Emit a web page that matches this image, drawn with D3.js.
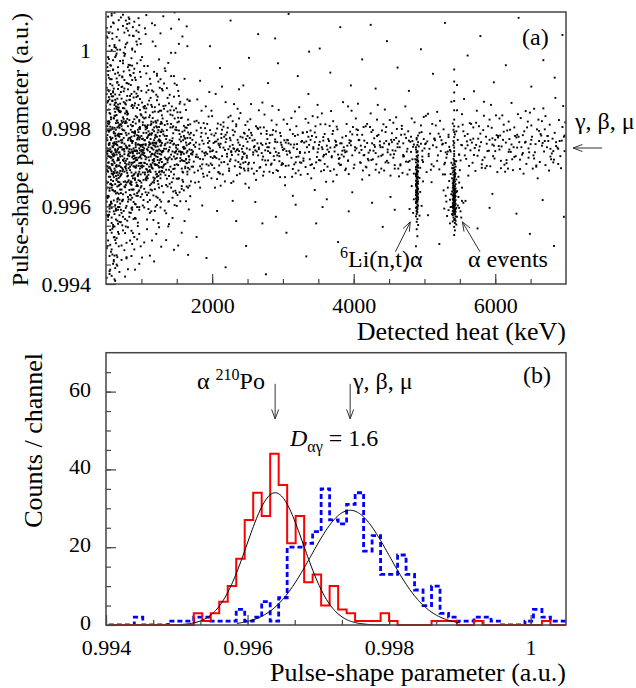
<!DOCTYPE html>
<html>
<head>
<meta charset="utf-8">
<script src="https://cdn.jsdelivr.net/npm/d3@7"></script>
<style>
body { margin: 0; background: #fff; }
svg { display: block; }
text { font-family: "Liberation Serif", "Times New Roman", serif; fill: #000; }
</style>
</head>
<body>
<svg id="chart" width="636" height="688"></svg>
<script>
// ---- panel (a) ----
var heatTicks = [2000, 4000, 6000];
var psdTicks = [0.994, 0.996, 0.998, 1.0];

// scatter events: pairs of (heat in units of 10 keV, pulse-shape in units of 1e-5 above 0.99)
var lowHeatEvents = [
51,612,63,874,55,433,68,721,52,958,60,547,66,803,57,1062,53,689,64,505,
59,776,50,842,67,598,54,931,61,462,69,685,56,747,62,1015,58,571,65,820,
52,703,60,893,68,529,55,640,63,984,51,416,66,757,57,611,64,867,53,1088,
61,736,58,489,69,802,50,665,67,944,54,578,62,711,56,838,65,450,59,1031,
53,627,66,782,60,552,51,905,68,673,57,739,63,441,55,816,64,590,52,968,
67,724,58,655,50,793,62,521,69,887,56,698,61,615,54,1046,65,759,59,476,
51,848,64,633,57,771,53,565,66,920,60,684,68,497,55,742,62,861,58,1002,
63,603,50,718,67,785,56,539,59,911,65,667,52,806,61,458,69,752,54,979,
60,641,57,824,64,703,51,587,68,854,55,426,62,765,66,612,53,938,58,690,
65,733,52,648,59,872,67,555,50,1019,63,781,56,501,61,826,54,676,69,937,
58,596,64,857,51,740,66,469,55,795,60,1073,53,626,68,704,62,548,57,889,
69,662,54,812,61,729,50,579,65,993,59,707,56,437,63,843,52,770,67,621,
55,875,62,697,58,532,68,806,53,744,66,651,51,1037,64,589,60,762,57,483,
50,926,61,675,67,748,56,604,63,888,59,542,54,713,65,835,52,497,69,779,
57,668,53,813,64,566,60,951,51,694,68,632,55,759,62,412,66,877,58,726,
63,513,59,799,50,683,67,1055,54,760,61,587,56,915,65,702,52,623,69,846,
58,741,66,563,53,899,60,720,55,646,64,1008,51,531,68,787,57,658,62,833,
54,578,61,792,67,680,50,857,65,474,59,718,56,963,63,657,52,735,69,560,
60,883,57,609,64,774,51,492,68,912,55,701,62,638,66,821,53,573,58,1096,
65,686,52,783,59,654,67,862,56,727,61,520,54,849,63,744,50,612,69,705,
71,752,84,629,93,881,77,567,89,943,73,698,98,804,80,1021,86,712,75,588,
92,763,79,846,70,607,87,925,95,678,74,1064,82,735,97,591,78,819,90,702,
83,874,72,643,96,759,88,531,76,987,91,724,81,612,99,837,85,769,73,908,
94,655,79,783,87,597,70,842,97,711,83,1040,75,663,90,895,78,548,86,746,
71,811,93,627,82,964,95,776,76,689,88,853,74,573,99,731,80,917,91,606,
85,738,72,877,98,665,79,601,89,790,77,1009,94,742,84,512,70,728,92,832,
81,679,96,861,75,747,87,622,73,932,90,781,83,584,78,703,97,1031,86,655,
74,796,91,570,80,722,95,906,71,634,88,768,99,624,76,852,84,693,93,1052,
79,752,86,889,72,583,97,749,82,667,90,954,77,711,94,598,70,974,87,726,
92,687,75,825,89,643,81,770,98,876,73,551,85,797,96,704,78,1078,83,642,
71,894,88,712,94,829,80,563,76,761,91,668,84,938,99,757,87,591,73,815,
96,638,82,787,70,677,93,744,78,862,86,537,75,995,90,730,97,689,81,901,
85,617,72,764,89,880,77,649,94,1016,79,708,91,791,83,573,98,848,74,719,
87,962,95,652,80,836,73,746,92,605,76,903,84,776,99,682,71,559,88,817,
78,697,90,744,82,1086,96,791,74,631,86,858,93,719,79,917,70,786,85,664,
97,598,75,776,88,643,81,958,94,736,72,820,89,703,77,531,91,865,83,756,
98,727,80,677,87,806,73,613,95,884,84,702,76,1047,92,758,71,680,86,595,
79,843,93,661,82,741,99,933,75,716,89,567,77,814,96,684,84,874,70,643,
91,793,74,968,86,707,97,818,81,624,88,740,72,499,94,772,78,655,85,912,
90,631,76,734,83,822,95,558,73,771,87,1003,80,751,98,799,79,469,92,701,
101,734,114,812,123,665,107,893,119,588,128,757,104,961,111,702,126,846,117,628,
109,779,122,941,103,616,115,735,129,689,106,842,120,1012,112,654,125,772,100,897,
118,716,127,597,105,808,113,879,121,743,108,566,124,921,102,687,116,764,129,834,
110,635,123,790,106,1043,119,708,114,861,101,773,127,682,108,910,122,603,116,827,
104,749,112,583,125,804,118,946,100,661,121,728,109,862,128,612,115,699,103,789,
126,735,107,674,117,895,111,758,124,557,102,816,120,781,113,643,129,902,105,711,
119,844,110,726,123,622,101,984,116,697,127,768,108,801,114,587,122,873,104,645,
112,928,125,712,106,757,118,661,100,834,121,625,128,846,103,732,115,1071,109,688,
124,769,117,816,102,602,111,872,126,690,107,942,120,738,113,773,129,652,105,858,
116,719,122,803,110,593,127,927,101,705,119,672,114,784,106,828,123,743,108,629,
121,887,104,770,118,734,112,693,125,978,100,741,109,611,128,791,115,856,103,668,
126,617,111,829,120,706,107,789,124,843,117,565,102,752,113,915,129,739,119,756,
105,682,116,1024,122,676,108,747,127,812,114,706,101,631,121,764,110,899,125,648,
118,793,103,856,128,722,112,762,106,670,123,882,115,641,120,819,100,712,117,746,
109,961,126,781,113,708,104,597,119,855,111,784,124,704,107,726,122,936,116,662,
129,797,102,809,114,751,120,599,108,677,125,862,118,722,105,1058,127,743,110,783,
121,682,115,898,101,757,112,616,123,727,106,804,119,763,113,688,126,905,104,737,
131,742,145,806,158,668,137,879,163,721,149,634,134,948,168,785,141,702,155,842,
160,753,138,612,152,897,166,699,143,768,130,826,157,739,147,916,164,651,135,773,
150,708,161,862,139,745,169,626,144,834,132,687,156,779,148,995,165,742,142,648,
136,819,159,717,146,761,133,589,162,803,153,672,140,887,167,760,151,734,144,622,
158,792,131,703,149,852,164,711,137,764,155,613,142,935,168,695,133,809,146,728,
161,776,139,678,153,741,130,898,157,652,145,788,166,823,135,722,150,601,163,764,
141,847,159,687,147,739,134,761,169,811,152,706,138,969,156,738,143,662,165,875,
132,748,148,797,160,641,137,713,154,864,167,729,144,775,131,636,162,698,150,912,
140,726,157,828,135,582,164,757,146,682,153,795,130,741,168,653,142,812,158,1037,
149,757,136,904,161,716,145,638,133,781,155,869,166,790,139,694,151,747,163,613,
144,741,157,697,131,858,148,722,168,746,137,651,152,828,134,709,160,781,142,995,
155,724,165,689,140,770,147,603,132,916,159,752,150,671,143,857,167,713,136,796,
162,774,138,741,154,636,146,882,130,699,164,738,149,803,135,655,158,689,141,763,
169,776,151,842,133,726,145,759,161,928,139,613,156,767,147,706,166,648,153,1018,
134,680,160,807,142,733,168,871,148,640,137,844,152,758,131,793,163,721,144,570,
157,645,146,935,165,776,140,658,150,796,135,748,167,592,155,716,132,851,159,770,
143,721,162,749,136,671,153,818,149,742,138,548,164,802,145,696,130,742,170,664,
156,733,141,803,168,720,133,955,151,629,160,735,147,826,137,719,165,1012,154,772,
58,421,66,447,72,462,81,438,90,489,97,452,104,507,112,473,121,529,128,496,
135,513,146,488,157,532,166,475,63,408,77,419,86,472,94,515,108,541,118,458,
139,554,152,499,161,562,55,472,69,431,79,506,91,437,101,468,115,512,125,546,
62,1098,74,1093,83,1071,96,1084,107,1092,119,1066,131,1089,142,1057,153,1081,164,1063,
147,1099,127,1045,88,1039,99,1018
];

// the densest part of the low-heat cloud
var lowHeatCore = [
52,742,61,688,67,815,55,603,64,761,58,927,50,704,69,655,56,862,62,580,
53,795,66,718,59,642,51,889,68,767,57,694,63,833,54,625,65,740,60,976,
50,771,67,663,55,728,62,851,58,709,64,594,52,818,69,739,56,676,61,903,
59,754,53,871,66,635,51,723,63,787,57,612,68,846,54,758,60,681,65,929,
62,732,50,806,56,749,67,591,58,883,53,662,64,797,61,715,55,840,69,617,
57,773,63,692,51,659,66,855,59,734,52,621,68,781,60,896,54,699,65,766,
58,648,61,827,50,735,64,678,56,805,67,722,53,948,62,761,55,586,69,810,
59,706,66,744,52,867,63,639,57,797,60,752,51,626,68,719,54,881,65,671,
61,788,53,712,67,849,56,657,64,739,50,915,58,684,62,802,55,763,69,598,
57,829,63,747,52,691,66,618,59,871,51,776,68,653,60,731,54,819,65,706,
62,685,56,778,50,643,67,902,53,729,64,814,58,607,61,757,55,698,69,843,
57,725,63,866,51,750,66,688,59,803,52,577,68,738,60,665,54,792,65,851,
71,701,84,776,93,652,77,839,89,722,73,615,98,758,80,884,86,687,75,746,
92,813,79,661,70,733,87,791,95,627,74,853,82,708,97,772,78,596,90,824,
83,747,72,683,96,906,88,729,76,651,91,787,81,838,99,703,85,628,73,764,
94,719,79,872,87,678,70,810,97,641,83,756,75,896,90,714,78,789,86,662,
71,844,93,725,82,618,95,797,76,741,88,672,74,829,99,754,80,686,91,931,
85,771,72,806,98,697,79,749,89,611,77,865,94,783,84,659,70,712,92,752,
81,731,96,667,75,818,87,741,73,690,90,859,83,713,78,636,97,802,86,779,
74,694,91,742,80,825,95,681,71,770,88,807,99,648,76,723,84,884,93,705,
79,815,86,643,72,752,97,737,82,698,90,790,77,664,94,853,70,691,87,763,
92,718,75,868,89,680,81,806,98,744,73,729,85,657,96,781,78,717,83,950,
91,672,76,795,88,736,74,617,95,759,80,842,99,711,86,768,71,657,93,890,
84,738,79,692,97,822,72,786,89,749,77,701,94,634,82,775,90,683,75,747,
87,861,73,798,96,725,81,663,85,810,78,756,92,699,70,864,98,777,83,729,
101,758,114,702,123,821,107,667,119,776,128,733,104,852,111,691,126,765,117,718,
109,809,122,683,103,744,115,788,129,714,106,636,120,753,112,834,125,700,100,781,
118,667,127,792,105,729,113,761,121,815,108,708,124,657,102,774,116,842,129,691,
110,752,123,719,106,798,119,644,114,733,101,867,127,756,108,694,122,779,116,712,
104,826,112,740,125,688,118,803,100,723,121,761,109,672,128,817,115,749,103,703,
126,770,107,852,117,674,111,718,124,796,102,739,120,689,113,809,129,763,105,770,
119,731,110,681,123,754,101,700,116,797,127,722,108,776,114,658,122,743,104,712,
112,787,125,746,106,721,118,770,100,652,121,806,128,701,103,759,115,735,109,744,
124,678,117,757,102,829,111,765,126,718,107,696,120,784,113,728,129,813,105,687,
116,762,122,707,110,793,127,672,101,745,119,708,114,818,106,760,123,736,108,805
];

// upper, lower and right fringes of the low-heat cloud
var lowHeatFringe = [
52,1034,57,962,61,1071,66,918,70,1003,75,947,81,1052,86,981,92,925,97,1066,
54,896,59,1045,64,988,68,1079,73,934,78,1017,84,963,89,1038,95,901,99,976,
51,1059,56,927,62,1010,67,958,71,1086,77,992,82,915,88,1061,93,1024,98,946,
53,984,58,1091,63,941,69,1027,74,975,80,1069,85,936,91,998,96,1048,55,1013,
60,952,65,1036,72,907,79,1058,87,1006,94,968,83,1082,76,925,90,1075,66,1003,
132,707,136,781,141,836,145,672,149,751,153,884,157,719,161,795,165,682,169,763,
134,859,138,723,143,768,147,697,151,816,155,741,159,663,163,848,167,728,131,785,
135,694,140,752,144,803,148,738,152,671,156,827,160,748,164,711,168,872,133,757,
137,812,142,689,146,847,150,724,154,786,158,739,162,702,166,809,139,865,170,735,
53,512,58,557,62,473,67,534,71,591,76,487,81,546,87,503,92,568,97,529,
55,594,60,452,65,518,69,577,74,538,79,466,85,583,90,521,95,549,99,497
];

var bandEvents = [
171,745,184,802,196,688,209,761,223,829,237,714,248,773,176,661,191,857,203,729,
215,682,229,796,242,748,174,783,187,721,199,846,212,653,226,770,239,701,250,818,
178,733,193,679,205,788,218,745,231,863,245,697,181,815,195,752,207,670,221,728,
234,806,247,658,173,702,186,769,200,832,213,713,227,742,240,779,183,648,197,796,
210,757,224,691,236,851,249,725,175,818,189,737,202,763,216,805,230,664,243,740,
180,692,194,776,206,724,219,868,233,718,246,787,172,771,185,846,198,710,211,684,
225,754,238,826,251,692,177,727,190,801,204,648,217,779,228,732,241,699,182,759,
192,708,208,813,220,773,235,680,244,755,179,875,188,676,201,744,214,729,232,792,
247,809,174,715,195,831,206,767,222,708,237,764,170,789,186,741,199,672,212,810,
227,660,243,727,250,766,183,703,197,741,209,687,219,784,231,748,240,840,176,753,
191,787,204,727,216,751,229,819,245,735,181,663,193,735,207,800,225,716,236,747,
172,738,188,814,200,706,213,776,226,833,239,684,249,749,178,820,194,763,210,721,
221,790,233,741,244,712,185,697,203,782,218,664,230,783,246,736,196,894,214,908,
253,746,268,803,281,689,297,764,312,827,326,712,339,771,354,690,368,845,383,733,
396,768,259,712,274,836,288,749,303,675,317,781,331,738,346,806,361,663,375,757,
390,812,256,783,271,720,285,858,300,745,314,696,328,790,343,752,357,728,372,695,
387,744,262,668,277,794,292,731,306,812,320,760,335,683,349,829,364,773,379,710,
393,683,254,824,266,751,283,707,296,789,309,742,323,855,338,721,351,758,366,807,
381,762,398,731,258,739,272,679,289,766,301,823,316,708,330,764,344,698,359,786,
373,741,385,868,264,802,279,742,293,691,307,770,322,728,336,815,350,748,363,702,
377,798,392,717,251,708,269,762,284,821,299,711,311,759,325,681,341,781,355,839,
369,729,384,777,399,804,260,755,275,718,290,793,305,742,319,806,333,767,348,727,
362,756,376,681,391,756,255,863,270,737,286,686,302,770,315,751,329,717,345,790,
358,693,371,819,388,739,263,691,278,773,294,848,308,705,321,784,337,740,352,766,
367,751,380,724,395,792,257,769,273,803,287,729,304,764,318,685,332,825,347,713,
360,811,374,769,389,697,265,731,280,752,295,716,310,797,324,740,340,672,356,747,
370,786,386,752,252,797,267,699,282,783,298,758,313,676,327,768,342,832,357,769,
382,707,397,846,261,744,276,761,291,810,306,733,319,727,334,752,353,718,365,740,
378,733,394,763,259,684,282,737,300,709,317,844,339,795,358,732,371,664,389,781,
271,867,296,675,324,713,349,861,376,757,252,648,303,654,345,642,266,847,392,857,
402,752,417,806,431,694,446,768,460,829,474,715,489,776,503,688,518,843,532,734,
547,771,409,713,424,839,438,752,452,679,467,784,481,740,495,808,510,662,525,759,
540,813,405,784,420,722,434,861,448,746,463,697,477,793,492,754,506,729,521,695,
536,745,412,669,427,796,441,733,456,815,470,762,485,684,499,830,514,774,529,712,
543,686,403,826,416,753,432,708,445,791,459,743,473,857,487,721,501,760,516,808,
530,763,549,733,408,738,422,680,437,767,451,822,466,708,480,766,494,699,508,787,
523,742,538,869,414,804,428,743,443,692,457,771,471,729,486,816,500,749,513,703,
527,798,542,718,401,707,419,763,433,823,449,712,462,761,476,682,491,782,505,838,
519,731,534,778,548,805,410,756,425,719,440,795,455,744,468,807,483,768,497,728,
512,757,526,682,541,757,406,864,421,738,436,687,453,771,465,752,479,717,496,791,
509,694,522,820,537,741,413,692,429,775,444,849,458,706,472,785,490,741,504,767,
517,752,531,725,545,793,407,770,423,804,439,730,454,765,469,686,482,826,498,714,
511,812,524,770,539,698,415,732,430,753,447,717,461,799,475,741,493,673,507,748,
520,787,535,753,404,798,418,700,435,784,450,759,464,677,478,769,502,833,515,770,
528,708,546,847,411,745,426,762,442,811,457,734,470,728,484,753,497,719,533,741,
552,758,566,812,581,699,596,775,610,834,624,721,639,783,653,697,668,852,682,742,
697,779,559,722,574,846,588,761,603,688,617,795,631,751,646,818,660,672,675,768,
690,822,555,793,570,732,584,869,598,756,613,707,627,803,642,764,656,739,671,706,
686,755,562,679,577,806,591,743,606,826,620,773,635,696,649,841,664,786,679,721,
693,698,553,837,567,764,582,719,595,802,609,754,623,866,638,733,651,771,666,819,
681,774,698,742,558,749,572,691,587,779,601,834,616,719,630,777,644,709,659,798,
673,752,685,879,564,814,578,754,593,703,607,782,622,740,636,827,650,760,663,714,
677,810,692,729,551,718,569,774,584,833,599,723,611,771,625,693,641,793,655,851,
669,741,684,789,699,816,560,767,575,730,590,806,605,755,619,818,633,779,648,739,
662,768,676,692,691,768,556,876,571,750,586,698,602,783,615,764,629,729,645,803,
658,705,671,832,688,751,563,704,579,787,594,861,608,717,621,797,637,752,652,779,
667,763,680,736,695,804,557,781,573,815,589,742,604,777,618,697,632,837,647,725,
661,823,674,781,689,709,565,744,580,765,597,729,612,810,626,752,640,684,657,760,
670,798,686,765,554,810,568,712,583,796,600,771,614,689,628,781,643,845,665,782,
683,720,696,858,561,757,576,774,592,823,606,746,619,740,634,765,654,731,678,748
];

// the core of the gamma/beta/muon band
var bandCore = [
173,741,186,708,199,785,211,752,224,697,236,771,249,730,262,806,275,744,288,719,
177,764,190,731,203,698,216,816,229,758,242,722,255,789,268,701,281,763,294,737,
171,702,184,779,197,749,209,688,222,802,235,745,247,714,260,771,273,689,286,796,
299,752,180,726,193,812,206,740,219,765,232,703,245,789,258,733,271,758,284,710,
297,781,175,687,188,761,201,724,214,797,227,739,240,708,253,776,266,747,279,718,
292,765,182,748,195,705,208,772,221,735,234,811,246,692,259,752,272,728,285,784,
298,706,178,795,191,739,204,766,217,714,230,749,243,777,256,697,269,787,282,738,
295,729,174,758,187,684,200,742,213,786,226,721,239,758,252,712,265,799,278,752,
291,693,183,722,196,768,210,705,223,747,237,733,250,781,263,741,276,707,289,772,
172,733,185,789,198,727,212,761,225,776,238,742,251,697,264,762,277,786,290,740,
302,748,318,713,334,791,349,739,365,768,381,706,396,757,412,784,427,721,443,762,
458,697,474,776,489,739,306,771,322,692,337,758,353,811,369,726,384,743,400,698,
415,769,431,737,446,804,462,752,477,714,493,789,310,738,326,766,341,708,357,778,
373,752,388,693,404,749,419,812,435,728,450,761,466,705,481,779,497,743,314,786,
329,723,345,765,361,734,376,805,392,718,408,771,423,744,439,697,454,788,470,732,
485,759,304,704,320,747,336,779,351,719,367,691,383,762,398,785,414,731,429,758,
445,713,460,776,476,748,491,715,308,762,324,737,339,706,355,752,371,794,386,728,
402,744,417,702,433,781,448,739,464,767,479,694,495,761,312,725,328,789,343,748,
359,709,375,766,390,741,406,796,421,718,437,757,452,733,468,799,483,721,499,773,
316,759,332,701,347,778,363,746,379,722,394,770,410,712,425,791,441,752,456,725,
502,762,518,717,534,784,549,733,565,771,581,708,596,759,612,792,627,727,643,766,
658,702,674,781,689,748,506,735,522,779,538,712,553,757,569,803,585,726,600,742,
616,711,631,784,647,749,662,794,678,728,694,769,510,708,526,761,541,797,557,731,
573,758,588,704,604,781,620,746,635,720,651,808,666,756,682,713,698,782,514,774,
530,739,545,716,561,786,577,744,592,771,608,698,623,759,639,737,655,723,670,768
];

var liEvents = [
489,772,490,758,488,746,489,739,491,731,490,725,489,719,488,713,490,708,489,703,
491,699,488,695,490,691,489,688,489,684,490,681,488,678,491,675,489,672,490,669,
488,666,489,663,490,661,491,658,489,655,488,653,490,650,489,648,491,645,490,643,
488,641,489,638,490,636,489,634,491,632,488,629,490,627,489,625,490,622,488,620,
491,618,489,615,490,613,489,611,488,608,490,605,491,602,489,599,488,596,490,593,
489,589,490,585,489,580,488,574,490,567,489,560,491,765,488,752,490,741,489,729,
491,716,488,701,490,686,489,676,491,664,488,657,490,646,489,633,491,623,488,611,
490,598,489,587,491,690,488,683,490,674,489,659,490,639,489,617,490,703,489,694,
489,541,490,523,488,497,489,468,491,552,490,612,488,636,489,652,491,705,490,720,
482,652,485,618,494,637,496,601,479,593,498,664,484,583,493,576
];

var alphaEvents = [
542,729,541,722,543,716,542,711,540,706,544,702,541,698,543,694,542,690,540,687,
544,684,541,681,543,678,542,675,539,672,545,669,541,667,543,664,542,662,540,659,
544,657,541,655,543,652,542,650,540,648,544,646,541,644,543,642,542,640,539,638,
545,636,541,634,543,632,542,630,540,628,544,626,541,624,543,622,542,620,540,618,
544,616,541,614,543,612,542,610,540,608,544,606,541,604,543,602,542,600,539,598,
545,596,541,594,543,592,542,590,540,588,544,586,541,584,543,582,542,580,540,577,
544,574,541,571,543,568,542,565,540,561,543,557,541,653,542,645,543,637,541,629,
542,621,543,613,541,605,542,597,543,589,541,641,542,633,543,625,541,617,542,609,
540,601,544,593,541,660,542,668,543,676,541,692,542,700,543,708,541,651,542,643,
543,627,541,619,542,611,543,603,541,595,542,587,543,579,541,663,542,671,543,683,
542,547,543,538,542,526,542,735,542,742,542,751,542,763,542,778,542,791,542,806,
542,823,542,847,542,871,542,893,542,921,542,952,541,768,543,785,
527,641,531,612,535,665,537,598,548,624,551,587,553,648,546,573,529,682,534,590,
549,661,555,609,538,631,547,602,532,575,550,693,536,556,552,571,545,553,530,627,
533,648,546,639,548,676,536,617,539,580,553,614,528,594,544,563,537,683,549,596
];

var outlierEvents = [
183,923,197,1012,211,956,226,1078,238,901,252,982,265,1043,279,917,293,968,308,1095,
321,935,336,889,352,1006,367,944,381,1061,396,911,412,978,431,903,447,1025,462,957,
478,897,495,1004,512,941,529,1072,546,912,561,988,579,1038,598,919,615,963,633,1085,
651,908,668,976,684,931,695,1041,205,889,244,911,289,1032,337,998,424,1067,570,896,
178,521,192,467,207,588,219,443,234,562,248,498,261,611,276,425,290,573,305,532,
318,604,333,471,347,556,362,618,378,508,393,587,409,462,426,609,441,547,458,591,
473,434,505,577,521,503,558,614,575,543,592,596,613,468,630,581,649,529,667,616,
683,498,697,573,186,602,229,614,271,556,314,627,356,598,398,636,452,624,596,632
];

// ---- panel (b) ----
var countTicks = [0, 20, 40, 60];
var binStart = 0.99404, binWidth = 0.00012;
var alphaCounts = [0,0,0,0,0,0,0,0,0,0, 3,1,3,6,10,17,27,34,28,44, 36,21,28,11,13,5,10,4,3,1,
                   1,1,3,1,0,0,0,0,1,1, 1,0,0,1,0,0,0,0,0,0, 0,1,0,0];
var gammaCounts = [0,0,0,2,0,0,0,1,1,1, 2,2,1,1,1,4,1,2,6,1, 7,20,20,21,24,35,27,26,31,34,
                   19,23,13,13,18,13,9,5,10,3, 2,1,1,2,2,1,0,0,0,1, 4,2,1,1];
// gaussian fits: [amplitude, mean, sigma] and fit range
var alphaFit = [34, 0.99639, 0.00040], alphaFitRange = [0.99505, 0.99800];
var gammaFit = [29.5, 0.99745, 0.00055], gammaFitRange = [0.99585, 0.99900];

var svg = d3.select("#chart");
var frameColor = "#444";

function pairs(arr) {
  var out = [];
  for (var i = 0; i < arr.length; i += 2) out.push([arr[i] * 10, 0.99 + arr[i + 1] * 1e-5]);
  return out;
}
function fmt(d) { return String(+d.toFixed(3)); }

function arrow(g, x1, y1, x2, y2) {
  var a = Math.atan2(y2 - y1, x2 - x1), L = 10, w = 0.36;
  g.append("line").attr("x1", x1).attr("y1", y1).attr("x2", x2).attr("y2", y2)
    .attr("stroke", "#333").attr("stroke-width", 1);
  g.append("path")
    .attr("d", "M" + (x2 - L * Math.cos(a - w)) + "," + (y2 - L * Math.sin(a - w)) +
      "L" + x2 + "," + y2 + "L" + (x2 - L * Math.cos(a + w)) + "," + (y2 - L * Math.sin(a + w)))
    .attr("fill", "none").attr("stroke", "#333").attr("stroke-width", 1);
}

function styleAxis(g) {
  g.select(".domain").remove();
  g.selectAll(".tick line").attr("stroke", frameColor).attr("stroke-width", 1.2);
  g.selectAll(".tick text").attr("font-size", 22).attr("fill", "#000");
}

// ================= panel (a) =================
var xa = d3.scaleLinear().domain([500, 7000]).range([106, 566]);
var ya = d3.scaleLinear().domain([0.994, 1.001]).range([284, 12]);

svg.append("clipPath").attr("id", "clipA").append("rect")
  .attr("x", 106).attr("y", 12).attr("width", 460).attr("height", 272);

var dots = [].concat(pairs(lowHeatEvents), pairs(lowHeatCore), pairs(lowHeatFringe),
  pairs(bandEvents), pairs(bandCore), pairs(liEvents), pairs(alphaEvents), pairs(outlierEvents));
svg.append("g").attr("clip-path", "url(#clipA)")
  .selectAll("rect").data(dots).enter().append("rect")
  .attr("x", function(d) { return xa(d[0]) - 0.95; })
  .attr("y", function(d) { return ya(d[1]) - 0.95; })
  .attr("width", 1.9).attr("height", 1.9)
  .attr("fill", "#000");

svg.append("g").attr("transform", "translate(0,284)")
  .call(d3.axisBottom(xa).tickValues(d3.range(1000, 7000, 500)).tickSize(-5).tickFormat(""))
  .call(styleAxis);
svg.append("g").attr("transform", "translate(0,284)")
  .call(d3.axisBottom(xa).tickValues(heatTicks).tickSize(-10).tickPadding(13).tickFormat(d3.format("d")))
  .call(styleAxis);
svg.append("g").attr("transform", "translate(106,0)")
  .call(d3.axisLeft(ya).tickValues(d3.range(0.9945, 1.001, 0.0005)).tickSize(-5).tickFormat(""))
  .call(styleAxis);
svg.append("g").attr("transform", "translate(106,0)")
  .call(d3.axisLeft(ya).tickValues(psdTicks).tickSize(-10).tickPadding(15).tickFormat(fmt))
  .call(styleAxis);

svg.append("rect").attr("x", 106).attr("y", 12).attr("width", 460).attr("height", 272)
  .attr("fill", "none").attr("stroke", frameColor).attr("stroke-width", 1.5);

svg.append("text").attr("x", 566).attr("y", 340).attr("text-anchor", "end")
  .attr("font-size", 26).text("Detected heat (keV)");
svg.append("text").attr("transform", "translate(28,13) rotate(-90)").attr("text-anchor", "end")
  .attr("font-size", 24).text("Pulse-shape parameter (a.u.)");
svg.append("text").attr("x", 522).attr("y", 45).attr("font-size", 24).text("(a)");

var ga = svg.append("g");
ga.append("text").attr("x", 575).attr("y", 129).attr("font-size", 24).text("γ, β, μ");
arrow(ga, xa(7510), ya(0.9975), xa(7100), ya(0.9975));

var liLabel = ga.append("text").attr("x", 340).attr("y", 267).attr("font-size", 24);
liLabel.append("tspan").attr("font-size", 16).attr("dy", -9).text("6");
liLabel.append("tspan").attr("dy", 9).text("Li(n,t)α");
ga.append("text").attr("x", 468).attr("y", 267).attr("font-size", 24).text("α events");
arrow(ga, xa(4590), ya(0.99483), xa(4800), ya(0.99560));
arrow(ga, xa(5785), ya(0.99483), xa(5535), ya(0.99560));

// ================= panel (b) =================
var xb = d3.scaleLinear().domain([0.994, 1.0005]).range([106, 566]);
var yb = d3.scaleLinear().domain([0, 70]).range([625, 352.7]);

svg.append("clipPath").attr("id", "clipB").append("rect")
  .attr("x", 106).attr("y", 352).attr("width", 460).attr("height", 274);

function stepPoints(counts) {
  var pts = counts.map(function(c, k) { return [binStart + k * binWidth, c]; });
  pts.push([binStart + counts.length * binWidth, counts[counts.length - 1]]);
  return pts;
}
var stepLine = d3.line().curve(d3.curveStepAfter)
  .x(function(d) { return xb(d[0]); }).y(function(d) { return yb(d[1]); });

var gb = svg.append("g").attr("clip-path", "url(#clipB)");
gb.append("path").attr("d", stepLine(stepPoints(gammaCounts)))
  .attr("fill", "none").attr("stroke", "#0000ff").attr("stroke-width", 2.8).attr("stroke-dasharray", "5,3");
gb.append("path").attr("d", stepLine(stepPoints(alphaCounts)))
  .attr("fill", "none").attr("stroke", "#ff0000").attr("stroke-width", 2);

function gaussPoints(p, range) {
  return d3.range(range[0], range[1] + 1e-9, (range[1] - range[0]) / 200).map(function(x) {
    return [x, p[0] * Math.exp(-0.5 * Math.pow((x - p[1]) / p[2], 2))];
  });
}
var fitLine = d3.line().x(function(d) { return xb(d[0]); }).y(function(d) { return yb(d[1]); });
gb.append("path").attr("d", fitLine(gaussPoints(alphaFit, alphaFitRange)))
  .attr("fill", "none").attr("stroke", "#000").attr("stroke-width", 1);
gb.append("path").attr("d", fitLine(gaussPoints(gammaFit, gammaFitRange)))
  .attr("fill", "none").attr("stroke", "#000").attr("stroke-width", 1);

svg.append("g").attr("transform", "translate(0,625)")
  .call(d3.axisBottom(xb).tickValues(d3.range(0, 10).map(function(i) { return 0.994 + i * 0.002 / 3; })).tickSize(-5).tickFormat(""))
  .call(styleAxis);
svg.append("g").attr("transform", "translate(0,625)")
  .call(d3.axisBottom(xb).tickValues(psdTicks).tickSize(-10).tickPadding(14).tickFormat(fmt))
  .call(styleAxis);
svg.append("g").attr("transform", "translate(106,0)")
  .call(d3.axisLeft(yb).tickValues(d3.range(5, 70, 5)).tickSize(-5).tickFormat(""))
  .call(styleAxis);
var yAxisB = svg.append("g").attr("transform", "translate(106,0)")
  .call(d3.axisLeft(yb).tickValues(countTicks).tickSize(-10).tickPadding(15).tickFormat(d3.format("d")))
  .call(styleAxis);
yAxisB.selectAll(".tick text").attr("dy", "0.2em");

svg.append("rect").attr("x", 106).attr("y", 352.7).attr("width", 460).attr("height", 272.3)
  .attr("fill", "none").attr("stroke", frameColor).attr("stroke-width", 1.5);

svg.append("text").attr("x", 566).attr("y", 681).attr("text-anchor", "end")
  .attr("font-size", 26).text("Pulse-shape parameter (a.u.)");
svg.append("text").attr("transform", "translate(42,353) rotate(-90)").attr("text-anchor", "end")
  .attr("font-size", 26).text("Counts / channel");
svg.append("text").attr("x", 523).attr("y", 383).attr("font-size", 24).text("(b)");

var po = svg.append("text").attr("x", 197).attr("y", 389).attr("font-size", 24);
po.append("tspan").text("α ");
po.append("tspan").attr("font-size", 16).attr("dy", -9).text("210");
po.append("tspan").attr("dy", 9).text("Po");
arrow(svg, xb(alphaFit[1]), yb(62), xb(alphaFit[1]), yb(53));

svg.append("text").attr("x", 353).attr("y", 389).attr("font-size", 24).text("γ, β, μ");
arrow(svg, xb(gammaFit[1]), yb(62), xb(gammaFit[1]), yb(53));

var dl = svg.append("text").attr("x", 290).attr("y", 446).attr("font-size", 24);
dl.append("tspan").attr("font-style", "italic").text("D");
dl.append("tspan").attr("font-size", 16).attr("dy", 6).text("αγ");
dl.append("tspan").attr("dy", -6).text(" = 1.6");
</script>
</body>
</html>
